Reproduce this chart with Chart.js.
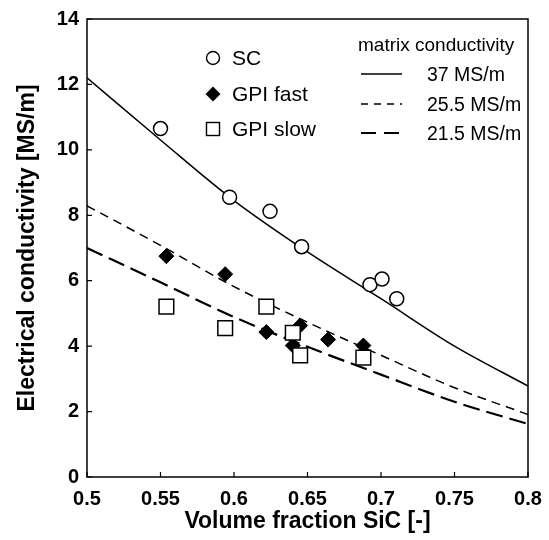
<!DOCTYPE html>
<html>
<head>
<meta charset="utf-8">
<script src="https://cdn.jsdelivr.net/npm/chart.js@4"></script>
<style>
  html, body { margin: 0; padding: 0; background: #ffffff; }
  #wrap { width: 549px; height: 540px; }
</style>
</head>
<body>
<div id="wrap"><canvas id="chart" width="549" height="540"></canvas></div>
<script>
// --- measured points ---
var scX   = [0.550, 0.597, 0.6245, 0.646, 0.6925, 0.7007, 0.7107];
var scY   = [10.65, 8.55, 8.12, 7.04, 5.88, 6.05, 5.45];
var fastX = [0.554, 0.594, 0.622, 0.645, 0.640, 0.664, 0.688];
var fastY = [6.75, 6.20, 4.43, 4.63, 4.02, 4.20, 4.02];
var slowX = [0.554, 0.594, 0.622, 0.640, 0.645, 0.688];
var slowY = [5.21, 4.55, 5.21, 4.41, 3.72, 3.65];

// --- model curves ---
var curveX  = [0.50, 0.55, 0.60, 0.65, 0.70, 0.75, 0.80];
var curve37 = [12.2, 10.3, 8.45, 6.88, 5.45, 4.00, 2.78];
var curve25 = [8.29, 7.08, 5.82, 4.73, 3.72, 2.73, 1.91];
var curve21 = [7.00, 5.95, 4.89, 3.98, 3.13, 2.30, 1.62];

var seriesLabels = ['SC', 'GPI fast', 'GPI slow'];
var matrixLabels = ['37 MS/m', '25.5 MS/m', '21.5 MS/m'];

function pts(xs, ys) {
  return xs.map(function(x, i) { return { x: x, y: ys[i] }; });
}

var FONT = '"Liberation Sans", Arial, Helvetica, sans-serif';

// box, inward ticks and legend
var framePlugin = {
  id: 'frame',
  afterDraw: function(chart) {
    var ctx = chart.ctx, a = chart.chartArea;
    var xs = chart.scales.x, ys = chart.scales.y;
    ctx.save();
    ctx.strokeStyle = '#000';
    ctx.lineWidth = 1.5;
    ctx.strokeRect(a.left, a.top, a.right - a.left, a.bottom - a.top);
    ctx.lineWidth = 1.2;
    ctx.beginPath();
    xs.ticks.forEach(function(t) {
      var px = xs.getPixelForValue(t.value);
      ctx.moveTo(px, a.bottom); ctx.lineTo(px, a.bottom - 5);
    });
    ys.ticks.forEach(function(t) {
      var py = ys.getPixelForValue(t.value);
      ctx.moveTo(a.left, py); ctx.lineTo(a.left + 5, py);
    });
    ctx.stroke();

    // legend: symbols
    ctx.fillStyle = '#000';
    ctx.textBaseline = 'middle';
    ctx.textAlign = 'left';
    ctx.font = '21px ' + FONT;
    var mx = 213, tx = 232, rows = [58, 94, 129];
    ctx.lineWidth = 1.4;
    ctx.beginPath(); ctx.arc(mx, rows[0], 6.5, 0, Math.PI * 2);
    ctx.fillStyle = '#fff'; ctx.fill(); ctx.stroke();
    ctx.fillStyle = '#000';
    ctx.beginPath();
    ctx.moveTo(mx - 7.5, rows[1]); ctx.lineTo(mx, rows[1] - 7.5);
    ctx.lineTo(mx + 7.5, rows[1]); ctx.lineTo(mx, rows[1] + 7.5);
    ctx.closePath(); ctx.fill();
    ctx.fillStyle = '#fff';
    ctx.fillRect(mx - 6.5, rows[2] - 6.5, 13, 13);
    ctx.strokeRect(mx - 6.5, rows[2] - 6.5, 13, 13);
    ctx.fillStyle = '#000';
    seriesLabels.forEach(function(s, i) { ctx.fillText(s, tx, rows[i] + 1); });

    // legend: matrix conductivity
    ctx.font = '19px ' + FONT;
    ctx.fillText('matrix conductivity', 358, 46);
    ctx.font = '19.5px ' + FONT;
    var lrows = [75, 105, 134];
    var dashes = [[], [7, 6], [15, 8]];
    var widths = [1.5, 1.5, 2.2];
    lrows.forEach(function(y, i) {
      ctx.beginPath();
      ctx.setLineDash(dashes[i]);
      ctx.lineWidth = widths[i];
      ctx.moveTo(361, y - 1); ctx.lineTo(402, y - 1);
      ctx.stroke();
      ctx.setLineDash([]);
      ctx.fillText(matrixLabels[i], 427, y + 1);
    });
    ctx.restore();
  }
};

var ctx = document.getElementById('chart');
var chart = new Chart(ctx, {
  type: 'scatter',
  data: {
    datasets: [
      {
        label: 'GPI slow', data: pts(slowX, slowY), order: 0,
        pointStyle: 'rect', pointRadius: 10.4, backgroundColor: '#fff',
        borderColor: '#000', borderWidth: 1.5
      },
      {
        label: 'GPI fast', data: pts(fastX, fastY), order: 1,
        pointStyle: 'rectRot', pointRadius: 7.5, backgroundColor: '#000',
        borderColor: '#000', borderWidth: 1
      },
      {
        label: 'SC', data: pts(scX, scY), order: 2,
        pointStyle: 'circle', pointRadius: 7, backgroundColor: '#fff',
        borderColor: '#000', borderWidth: 1.5
      },
      {
        label: '37 MS/m', data: pts(curveX, curve37), order: 3, showLine: true,
        pointRadius: 0, borderColor: '#000', borderWidth: 1.5,
        cubicInterpolationMode: 'monotone'
      },
      {
        label: '25.5 MS/m', data: pts(curveX, curve25), order: 4, showLine: true,
        pointRadius: 0, borderColor: '#000', borderWidth: 1.5, borderDash: [9, 6],
        cubicInterpolationMode: 'monotone'
      },
      {
        label: '21.5 MS/m', data: pts(curveX, curve21), order: 5, showLine: true,
        pointRadius: 0, borderColor: '#000', borderWidth: 2.2, borderDash: [17, 7],
        cubicInterpolationMode: 'monotone'
      }
    ]
  },
  options: {
    responsive: false,
    animation: false,
    layout: { padding: { top: 19, right: 21, left: 0, bottom: 0 } },
    plugins: { legend: { display: false }, tooltip: { enabled: false } },
    scales: {
      x: {
        type: 'linear', min: 0.5, max: 0.8,
        afterFit: function(s) { s.height = 63; s.paddingLeft = 0; s.paddingRight = 0; },
        grid: { display: false, drawTicks: false },
        border: { display: false },
        ticks: {
          stepSize: 0.05, autoSkip: false, maxRotation: 0, padding: 10,
          color: '#000', font: { family: FONT, size: 20, weight: 'bold' },
          callback: function(v) { return String(Number(v.toFixed(2))); }
        },
        title: {
          display: true, text: 'Volume fraction SiC [-]', color: '#000',
          font: { family: FONT, size: 23, weight: 'bold' },
          padding: { top: 0, bottom: 5 }
        }
      },
      y: {
        type: 'linear', min: 0, max: 14,
        afterFit: function(s) { s.width = 87; s.paddingTop = 0; s.paddingBottom = 0; },
        grid: { display: false, drawTicks: false },
        border: { display: false },
        ticks: {
          stepSize: 2, autoSkip: false, padding: 8,
          color: '#000', font: { family: FONT, size: 20, weight: 'bold' }
        },
        title: {
          display: true, text: 'Electrical conductivity [MS/m]', color: '#000',
          font: { family: FONT, size: 23, weight: 'bold' },
          padding: { top: 14, bottom: 0 }
        }
      }
    }
  },
  plugins: [framePlugin]
});
</script>
</body>
</html>
